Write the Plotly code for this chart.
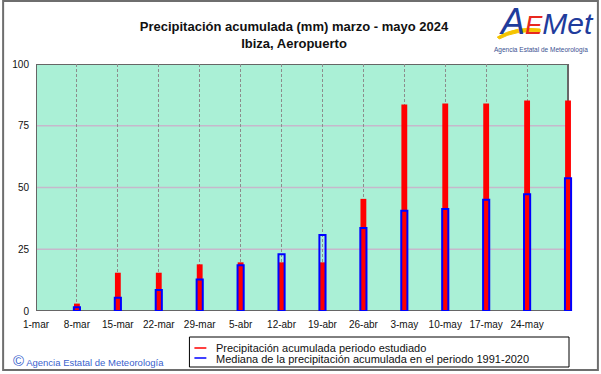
import datetime as dt
import plotly.graph_objects as go

# ---------------- data ----------------
bar_dates = ["2024-03-08", "2024-03-15", "2024-03-22", "2024-03-29", "2024-04-05",
             "2024-04-12", "2024-04-19", "2024-04-26", "2024-05-03", "2024-05-10",
             "2024-05-17", "2024-05-24", "2024-05-31"]
precip_2024 = [3.0, 15.5, 15.5, 18.9, 19.7, 19.7, 19.7, 45.4, 83.6, 84.0, 84.0, 85.2, 85.2]
mediana_1991_2020 = [1.5, 5.4, 8.5, 12.8, 18.5, 23.0, 30.8, 33.6, 40.6, 41.3, 45.0, 47.3, 53.7]
tick_dates = ["2024-03-01", "2024-03-08", "2024-03-15", "2024-03-22", "2024-03-29",
              "2024-04-05", "2024-04-12", "2024-04-19", "2024-04-26", "2024-05-03",
              "2024-05-10", "2024-05-17", "2024-05-24"]
tick_labels = ["1-mar", "8-mar", "15-mar", "22-mar", "29-mar", "5-abr", "12-abr",
               "19-abr", "26-abr", "3-may", "10-may", "17-may", "24-may"]
y_ticks = [0, 25, 50, 75, 100]
y_grid = [25, 50, 75]

title_lines = ["Precipitación acumulada (mm) marzo - mayo 2024", "Ibiza, Aeropuerto"]
legend_names = ["Precipitación acumulada periodo estudiado",
                "Mediana de la precipitación acumulada en el periodo 1991-2020"]
period_start, period_end = "2024-03-01", "2024-05-31"

# ---------------- geometry ----------------
W, H = 601, 374
ML, MR, MT, MB = 34, 28, 64, 63
PW = W - ML - MR
PH = H - MT - MB
PB = H - MB
FRAME_R = 568                      # pixel of the period end (right frame)
d0 = dt.datetime.fromisoformat(period_start)
d1 = dt.datetime.fromisoformat(period_end)
ndays = (d1 - d0).days
px_per_day = (FRAME_R - ML) / ndays
range_end = d0 + dt.timedelta(days=PW / px_per_day)


def px(x):
    return (x - ML) / PW


def py(y):
    return (PB - y) / PH


DAY = 86400000
RED = "#ff0000"
BLUE = "#0000ff"
FONT = "Liberation Sans, Arial, sans-serif"

fig = go.Figure()

fig.add_trace(go.Bar(
    x=bar_dates, y=precip_2024, width=[DAY * 1.0] * len(bar_dates),
    marker=dict(color=RED, line=dict(width=0)),
    name=legend_names[0], showlegend=False, hoverinfo="x+y"))
fig.add_trace(go.Bar(
    x=bar_dates, y=mediana_1991_2020, width=[DAY * 1.05] * len(bar_dates),
    marker=dict(color="rgba(0,0,0,0)", line=dict(color=BLUE, width=2)),
    name=legend_names[1], showlegend=False, hoverinfo="x+y"))

fig.update_layout(
    width=W, height=H,
    margin=dict(l=ML, r=MR, t=MT, b=MB, pad=0),
    paper_bgcolor="white",
    plot_bgcolor="white",
    barmode="overlay",
    showlegend=False,
    font=dict(family=FONT, size=10, color="#111111"),
    title=dict(text="<br>".join("<b>" + t + "</b>" for t in title_lines),
               x=294 / W, xanchor="center", xref="container",
               y=1 - 31 / H, yanchor="top", yref="container",
               font=dict(family=FONT, size=13, color="#111111")),
    xaxis=dict(type="date", range=[d0.isoformat(), range_end.isoformat()],
               tickmode="array", tickvals=tick_dates, ticktext=tick_labels,
               ticks="outside", ticklen=4, tickcolor="rgba(0,0,0,0)",
               tickfont=dict(size=10, color="#111111"),
               showgrid=True, gridcolor="#8c8c8c", gridwidth=1, griddash="3px,2px",
               zeroline=False, showline=False),
    yaxis=dict(range=[0, 100], tickmode="array", tickvals=y_ticks,
               showgrid=False, zeroline=False, showline=False,
               ticks="outside", ticklen=4, tickcolor="rgba(0,0,0,0)",
               tickfont=dict(size=10, color="#111111")),
)

shapes = []
# plot background over the studied period
shapes.append(dict(type="rect", xref="x", yref="y", x0=period_start, x1=period_end,
                   y0=0, y1=100, fillcolor="#aaf0d6", line=dict(width=0), layer="below"))
# horizontal grid lines
for g in y_grid:
    shapes.append(dict(type="line", xref="x", yref="y", x0=period_start, x1=period_end,
                       y0=g, y1=g, line=dict(color="#c6b8cc", width=1.5), layer="below"))
# plot frame
shapes.append(dict(type="rect", xref="x", yref="y", x0=period_start, x1=period_end,
                   y0=0, y1=100, line=dict(color="#666666", width=2),
                   fillcolor="rgba(0,0,0,0)", layer="below"))
# outer frame
shapes.append(dict(type="rect", xref="paper", yref="paper",
                   x0=px(1), x1=px(598), y0=py(1), y1=py(370),
                   line=dict(color="#6e6e6e", width=2), fillcolor="rgba(0,0,0,0)"))
# legend box
shapes.append(dict(type="rect", xref="paper", yref="paper",
                   x0=px(188), x1=px(569), y0=py(337), y1=py(367),
                   line=dict(color="#000000", width=1), fillcolor="white"))
shapes.append(dict(type="line", xref="paper", yref="paper",
                   x0=px(193), x1=px(205), y0=py(348), y1=py(348),
                   line=dict(color=RED, width=1.5)))
shapes.append(dict(type="line", xref="paper", yref="paper",
                   x0=px(193), x1=px(205), y0=py(358), y1=py(358),
                   line=dict(color=BLUE, width=1.5)))
# logo swoosh
shapes.append(dict(type="path", xref="paper", yref="paper",
                   path=(f"M {px(497)},{py(37)} Q {px(515)},{py(26)} {px(540)},{py(29)} "
                         f"L {px(540)},{py(32)} Q {px(515)},{py(30)} {px(499)},{py(39)} Z"),
                   fillcolor="#f5c400", line=dict(color="#f5c400", width=1)))
fig.update_layout(shapes=shapes)

logo_text = ("<i><span style='font-size:36px;color:#1f3c9c'>A</span>"
             "<span style='font-size:26px;color:#e8281e'>E</span>"
             "<span style='font-size:30px;color:#1f3c9c'>Met</span></i>")

annotations = [
    dict(text=legend_names[0], x=px(213), y=py(348), xref="paper", yref="paper",
         xanchor="left", yanchor="middle", showarrow=False,
         font=dict(family=FONT, size=11, color="#111111")),
    dict(text=legend_names[1], x=px(213), y=py(358.5), xref="paper", yref="paper",
         xanchor="left", yanchor="middle", showarrow=False,
         font=dict(family=FONT, size=11, color="#111111")),
    dict(text="<span style='font-size:15px'>©</span> Agencia Estatal de Meteorología",
         x=px(9), y=py(360), xref="paper", yref="paper",
         xanchor="left", yanchor="middle", showarrow=False,
         font=dict(family=FONT, size=9.5, color="#3a5fcd")),
    dict(text=logo_text, x=px(546), y=py(21), xref="paper", yref="paper",
         xanchor="center", yanchor="middle", showarrow=False,
         font=dict(family=FONT, size=30, color="#1f3c9c")),
    dict(text="Agencia Estatal de Meteorología", x=px(541), y=py(50),
         xref="paper", yref="paper", xanchor="center", yanchor="middle",
         showarrow=False, font=dict(family=FONT, size=6.5, color="#3a5090")),
]
fig.update_layout(annotations=annotations)

fig.write_html("out.html", config={"displayModeBar": False},
               post_script="document.body.style.margin='0';")
